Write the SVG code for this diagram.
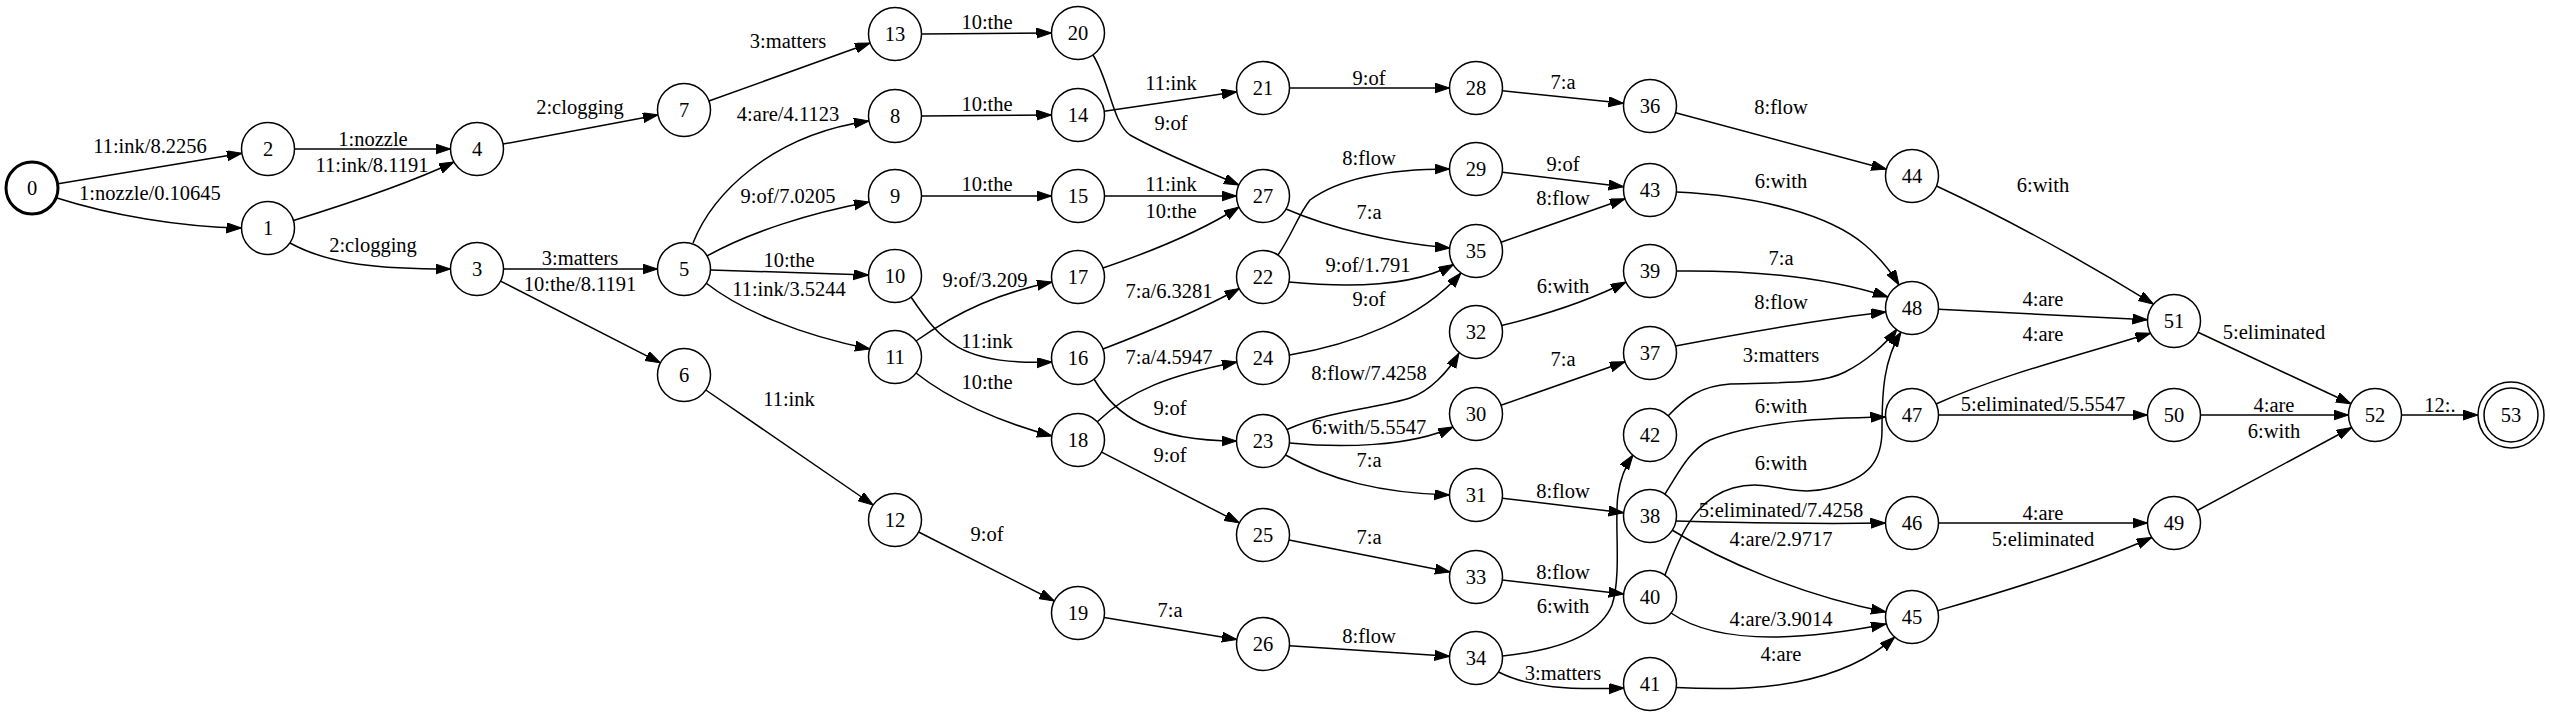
<svg xmlns="http://www.w3.org/2000/svg" width="2550" height="718" viewBox="0 0 2550 718">
<defs>
<style>
text{font-family:"Liberation Serif","Times New Roman",serif;font-size:20.5px;text-anchor:middle;fill:#000}
.nd circle{fill:#fff;stroke:#000;stroke-width:1.5}
.nd text{font-size:20.5px}
#edges path{fill:none;stroke:#000;stroke-width:1.5;marker-end:url(#ah)}
</style>
<marker id="ah" markerUnits="userSpaceOnUse" markerWidth="16" markerHeight="11" refX="15" refY="5" orient="auto" viewBox="0 0 16 11">
<path d="M0,0 L15,5 L0,10 z" fill="#000" stroke="#000" stroke-width="1"/>
</marker>
</defs>
<rect x="0" y="0" width="2550" height="718" fill="#fff"/>
<g id="edges">
<path d="M58.1,183.7 L241.9,153.3"/>
<path d="M57,198 C110,215 180,227 241.5,228"/>
<path d="M294.5,149 L450.5,149"/>
<path d="M293.5,220.5 C350,203 410,183 454,162"/>
<path d="M290,243 C330,265 380,269 450.5,269"/>
<path d="M503,144.1 L658,114.9"/>
<path d="M503.5,269 L657.5,269"/>
<path d="M500.6,281.1 L660.4,362.9"/>
<path d="M708.9,101 L870.1,43"/>
<path d="M693,243 C712,195 770,135 869,121"/>
<path d="M707,256 C750,232 810,213 869,202"/>
<path d="M710.5,269.9 L868.5,275.1"/>
<path d="M706,283 C740,310 800,335 870,349"/>
<path d="M705.8,390 L873.2,505"/>
<path d="M921.5,34 L1051.5,33"/>
<path d="M921.5,116 L1051.5,115"/>
<path d="M921.5,196 L1051.5,196"/>
<path d="M911,297 C940,340 960,366 1052,362"/>
<path d="M916,341 C960,310 1000,293 1052,282"/>
<path d="M916,373 C950,400 1000,422 1052,436"/>
<path d="M918.6,532 L1054.4,601"/>
<path d="M1093,55 C1110,82 1112,122 1130,135 C1160,152 1200,168 1239,185"/>
<path d="M1104.2,111.2 L1236.8,91.8"/>
<path d="M1104.5,196 L1236.5,196"/>
<path d="M1103,268 C1150,252 1200,232 1239,207"/>
<path d="M1103,349 C1150,331 1200,310 1239.5,288.5"/>
<path d="M1094,379 C1115,415 1150,441 1236.5,441"/>
<path d="M1097,422 C1130,390 1170,375 1237,362"/>
<path d="M1101.6,452.1 L1239.4,522.9"/>
<path d="M1104.1,617.4 L1236.9,639.6"/>
<path d="M1289.5,88 L1449.5,88"/>
<path d="M1286,209 C1330,228 1390,243 1450,248"/>
<path d="M1278,255 C1292,235 1298,215 1310,200 C1340,178 1390,169 1449.5,169"/>
<path d="M1289,282 C1340,287 1410,288 1453.5,264.5"/>
<path d="M1289.5,355 C1350,345 1420,320 1461,273"/>
<path d="M1287,429.5 C1330,410 1380,408 1410,398 C1430,391 1448,372 1459,353"/>
<path d="M1289.5,443 C1340,448 1410,447 1453,427"/>
<path d="M1285.5,455 C1330,480 1380,493 1449.5,495"/>
<path d="M1289,540.1 L1450,571.9"/>
<path d="M1289.4,645.7 L1449.6,656.3"/>
<path d="M1502.4,90.7 L1623.6,103.3"/>
<path d="M1502.3,172.2 L1623.7,186.8"/>
<path d="M1501,242.2 L1625,198.8"/>
<path d="M1501.5,325.5 C1545,315 1590,300 1626,282"/>
<path d="M1501,405.2 L1625,361.8"/>
<path d="M1502.3,498.2 L1623.7,512.8"/>
<path d="M1502.3,580 L1623.7,594"/>
<path d="M1502.5,656 C1560,650 1600,635 1612,605 C1622,575 1614,520 1618,495 C1620,480 1626,465 1633,455"/>
<path d="M1498.5,672 C1530,688 1570,690 1624,688"/>
<path d="M1675.6,112.8 L1886.4,169.2"/>
<path d="M1676.5,192 C1760,196 1830,215 1865,245 C1880,258 1890,270 1899,285"/>
<path d="M1676.5,271 C1760,270 1830,278 1888,297"/>
<path d="M1675.5,346 C1760,330 1830,318 1886,312"/>
<path d="M1668,416 C1685,398 1700,386 1730,384 C1780,382 1820,385 1845,372 C1865,362 1885,345 1897,329"/>
<path d="M1665,494 C1680,470 1690,450 1710,440 C1760,420 1830,418 1885.5,417"/>
<path d="M1665,575 C1675,550 1690,500 1733,488 C1770,478 1790,498 1830,488 C1870,478 1882,460 1882,430 C1882,390 1884,360 1901,332"/>
<path d="M1676,521 C1750,523 1820,524 1885.5,523"/>
<path d="M1672,530 C1720,560 1800,595 1886,612"/>
<path d="M1671,613 C1710,640 1780,645 1886,624"/>
<path d="M1676,687.5 C1760,692 1840,685 1894.7,637.1"/>
<path d="M1936.5,186 C2020,225 2090,265 2153.5,304.2"/>
<path d="M1938.5,309.3 L2147.5,319.7"/>
<path d="M1936,404 C2000,375 2080,355 2150.5,333.2"/>
<path d="M1938.5,415 L2147.5,415"/>
<path d="M1938.5,523 L2147.5,523"/>
<path d="M1937.7,610.6 C2010,590 2090,565 2151.8,537.5"/>
<path d="M2198,332.2 L2351,403.8"/>
<path d="M2200.5,415 L2348.5,415"/>
<path d="M2197.3,510.5 L2351.7,427.5"/>
<path d="M2401.5,415 L2478,415"/>
</g>
<g id="edge-labels">
<text x="150" y="152.5">11:ink/8.2256</text>
<text x="150" y="200">1:nozzle/0.10645</text>
<text x="373" y="145.5">1:nozzle</text>
<text x="372" y="171.5">11:ink/8.1191</text>
<text x="373" y="252">2:clogging</text>
<text x="580" y="114">2:clogging</text>
<text x="788" y="48">3:matters</text>
<text x="788" y="120.5">4:are/4.1123</text>
<text x="788" y="202.5">9:of/7.0205</text>
<text x="789" y="266.5">10:the</text>
<text x="789" y="295.5">11:ink/3.5244</text>
<text x="580" y="265">3:matters</text>
<text x="580" y="290.5">10:the/8.1191</text>
<text x="789" y="406">11:ink</text>
<text x="987" y="29">10:the</text>
<text x="987" y="111">10:the</text>
<text x="987" y="191">10:the</text>
<text x="1171" y="90">11:ink</text>
<text x="1171" y="130">9:of</text>
<text x="1171" y="191">11:ink</text>
<text x="1171" y="218">10:the</text>
<text x="985" y="286.5">9:of/3.209</text>
<text x="1169" y="298">7:a/6.3281</text>
<text x="987" y="347.5">11:ink</text>
<text x="1169" y="364">7:a/4.5947</text>
<text x="987" y="389">10:the</text>
<text x="1170" y="414.5">9:of</text>
<text x="1170" y="462">9:of</text>
<text x="987" y="540.5">9:of</text>
<text x="1170" y="617">7:a</text>
<text x="1369" y="85">9:of</text>
<text x="1563" y="89">7:a</text>
<text x="1369" y="165">8:flow</text>
<text x="1563" y="170.5">9:of</text>
<text x="1369" y="219">7:a</text>
<text x="1563" y="205">8:flow</text>
<text x="1368" y="271.5">9:of/1.791</text>
<text x="1563" y="292.5">6:with</text>
<text x="1369" y="306">9:of</text>
<text x="1563" y="366">7:a</text>
<text x="1369" y="379.5">8:flow/7.4258</text>
<text x="1369" y="434">6:with/5.5547</text>
<text x="1369" y="467">7:a</text>
<text x="1563" y="498">8:flow</text>
<text x="1369" y="543.5">7:a</text>
<text x="1563" y="578.5">8:flow</text>
<text x="1563" y="613">6:with</text>
<text x="1369" y="643">8:flow</text>
<text x="1563" y="679.5">3:matters</text>
<text x="1781" y="114">8:flow</text>
<text x="2043" y="191.5">6:with</text>
<text x="1781" y="188">6:with</text>
<text x="1781" y="265">7:a</text>
<text x="2043" y="306">4:are</text>
<text x="1781" y="309">8:flow</text>
<text x="2043" y="341">4:are</text>
<text x="1781" y="362">3:matters</text>
<text x="2043" y="411">5:eliminated/5.5547</text>
<text x="1781" y="413">6:with</text>
<text x="1781" y="469.5">6:with</text>
<text x="1781" y="517">5:eliminated/7.4258</text>
<text x="2043" y="519.5">4:are</text>
<text x="1781" y="546">4:are/2.9717</text>
<text x="2043" y="546">5:eliminated</text>
<text x="1781" y="625.5">4:are/3.9014</text>
<text x="1781" y="660.5">4:are</text>
<text x="2274" y="339">5:eliminated</text>
<text x="2274" y="412">4:are</text>
<text x="2274" y="438">6:with</text>
<text x="2440" y="412">12:.</text>
</g>
<g id="n0" class="nd"><circle cx="32" cy="188" r="26" style="stroke-width:3"/><text x="32" y="195">0</text></g>
<g id="n1" class="nd"><circle cx="268" cy="228" r="26.5"/><text x="268" y="235">1</text></g>
<g id="n2" class="nd"><circle cx="268" cy="149" r="26.5"/><text x="268" y="156">2</text></g>
<g id="n3" class="nd"><circle cx="477" cy="269" r="26.5"/><text x="477" y="276">3</text></g>
<g id="n4" class="nd"><circle cx="477" cy="149" r="26.5"/><text x="477" y="156">4</text></g>
<g id="n5" class="nd"><circle cx="684" cy="269" r="26.5"/><text x="684" y="276">5</text></g>
<g id="n6" class="nd"><circle cx="684" cy="375" r="26.5"/><text x="684" y="382">6</text></g>
<g id="n7" class="nd"><circle cx="684" cy="110" r="26.5"/><text x="684" y="117">7</text></g>
<g id="n8" class="nd"><circle cx="895" cy="116" r="26.5"/><text x="895" y="123">8</text></g>
<g id="n9" class="nd"><circle cx="895" cy="196" r="26.5"/><text x="895" y="203">9</text></g>
<g id="n10" class="nd"><circle cx="895" cy="276" r="26.5"/><text x="895" y="283">10</text></g>
<g id="n11" class="nd"><circle cx="895" cy="357" r="26.5"/><text x="895" y="364">11</text></g>
<g id="n12" class="nd"><circle cx="895" cy="520" r="26.5"/><text x="895" y="527">12</text></g>
<g id="n13" class="nd"><circle cx="895" cy="34" r="26.5"/><text x="895" y="41">13</text></g>
<g id="n14" class="nd"><circle cx="1078" cy="115" r="26.5"/><text x="1078" y="122">14</text></g>
<g id="n15" class="nd"><circle cx="1078" cy="196" r="26.5"/><text x="1078" y="203">15</text></g>
<g id="n16" class="nd"><circle cx="1078" cy="358" r="26.5"/><text x="1078" y="365">16</text></g>
<g id="n17" class="nd"><circle cx="1078" cy="277" r="26.5"/><text x="1078" y="284">17</text></g>
<g id="n18" class="nd"><circle cx="1078" cy="440" r="26.5"/><text x="1078" y="447">18</text></g>
<g id="n19" class="nd"><circle cx="1078" cy="613" r="26.5"/><text x="1078" y="620">19</text></g>
<g id="n20" class="nd"><circle cx="1078" cy="33" r="26.5"/><text x="1078" y="40">20</text></g>
<g id="n21" class="nd"><circle cx="1263" cy="88" r="26.5"/><text x="1263" y="95">21</text></g>
<g id="n22" class="nd"><circle cx="1263" cy="277" r="26.5"/><text x="1263" y="284">22</text></g>
<g id="n23" class="nd"><circle cx="1263" cy="441" r="26.5"/><text x="1263" y="448">23</text></g>
<g id="n24" class="nd"><circle cx="1263" cy="358" r="26.5"/><text x="1263" y="365">24</text></g>
<g id="n25" class="nd"><circle cx="1263" cy="535" r="26.5"/><text x="1263" y="542">25</text></g>
<g id="n26" class="nd"><circle cx="1263" cy="644" r="26.5"/><text x="1263" y="651">26</text></g>
<g id="n27" class="nd"><circle cx="1263" cy="196" r="26.5"/><text x="1263" y="203">27</text></g>
<g id="n28" class="nd"><circle cx="1476" cy="88" r="26.5"/><text x="1476" y="95">28</text></g>
<g id="n29" class="nd"><circle cx="1476" cy="169" r="26.5"/><text x="1476" y="176">29</text></g>
<g id="n30" class="nd"><circle cx="1476" cy="414" r="26.5"/><text x="1476" y="421">30</text></g>
<g id="n31" class="nd"><circle cx="1476" cy="495" r="26.5"/><text x="1476" y="502">31</text></g>
<g id="n32" class="nd"><circle cx="1476" cy="332" r="26.5"/><text x="1476" y="339">32</text></g>
<g id="n33" class="nd"><circle cx="1476" cy="577" r="26.5"/><text x="1476" y="584">33</text></g>
<g id="n34" class="nd"><circle cx="1476" cy="658" r="26.5"/><text x="1476" y="665">34</text></g>
<g id="n35" class="nd"><circle cx="1476" cy="251" r="26.5"/><text x="1476" y="258">35</text></g>
<g id="n36" class="nd"><circle cx="1650" cy="106" r="26.5"/><text x="1650" y="113">36</text></g>
<g id="n37" class="nd"><circle cx="1650" cy="353" r="26.5"/><text x="1650" y="360">37</text></g>
<g id="n38" class="nd"><circle cx="1650" cy="516" r="26.5"/><text x="1650" y="523">38</text></g>
<g id="n39" class="nd"><circle cx="1650" cy="271" r="26.5"/><text x="1650" y="278">39</text></g>
<g id="n40" class="nd"><circle cx="1650" cy="597" r="26.5"/><text x="1650" y="604">40</text></g>
<g id="n41" class="nd"><circle cx="1650" cy="684" r="26.5"/><text x="1650" y="691">41</text></g>
<g id="n42" class="nd"><circle cx="1650" cy="435" r="26.5"/><text x="1650" y="442">42</text></g>
<g id="n43" class="nd"><circle cx="1650" cy="190" r="26.5"/><text x="1650" y="197">43</text></g>
<g id="n44" class="nd"><circle cx="1912" cy="176" r="26.5"/><text x="1912" y="183">44</text></g>
<g id="n45" class="nd"><circle cx="1912" cy="617" r="26.5"/><text x="1912" y="624">45</text></g>
<g id="n46" class="nd"><circle cx="1912" cy="523" r="26.5"/><text x="1912" y="530">46</text></g>
<g id="n47" class="nd"><circle cx="1912" cy="415" r="26.5"/><text x="1912" y="422">47</text></g>
<g id="n48" class="nd"><circle cx="1912" cy="308" r="26.5"/><text x="1912" y="315">48</text></g>
<g id="n49" class="nd"><circle cx="2174" cy="523" r="26.5"/><text x="2174" y="530">49</text></g>
<g id="n50" class="nd"><circle cx="2174" cy="415" r="26.5"/><text x="2174" y="422">50</text></g>
<g id="n51" class="nd"><circle cx="2174" cy="321" r="26.5"/><text x="2174" y="328">51</text></g>
<g id="n52" class="nd"><circle cx="2375" cy="415" r="26.5"/><text x="2375" y="422">52</text></g>
<g id="n53" class="nd"><circle cx="2511" cy="415" r="33"/><circle cx="2511" cy="415" r="27"/><text x="2511" y="422">53</text></g>
</svg>
